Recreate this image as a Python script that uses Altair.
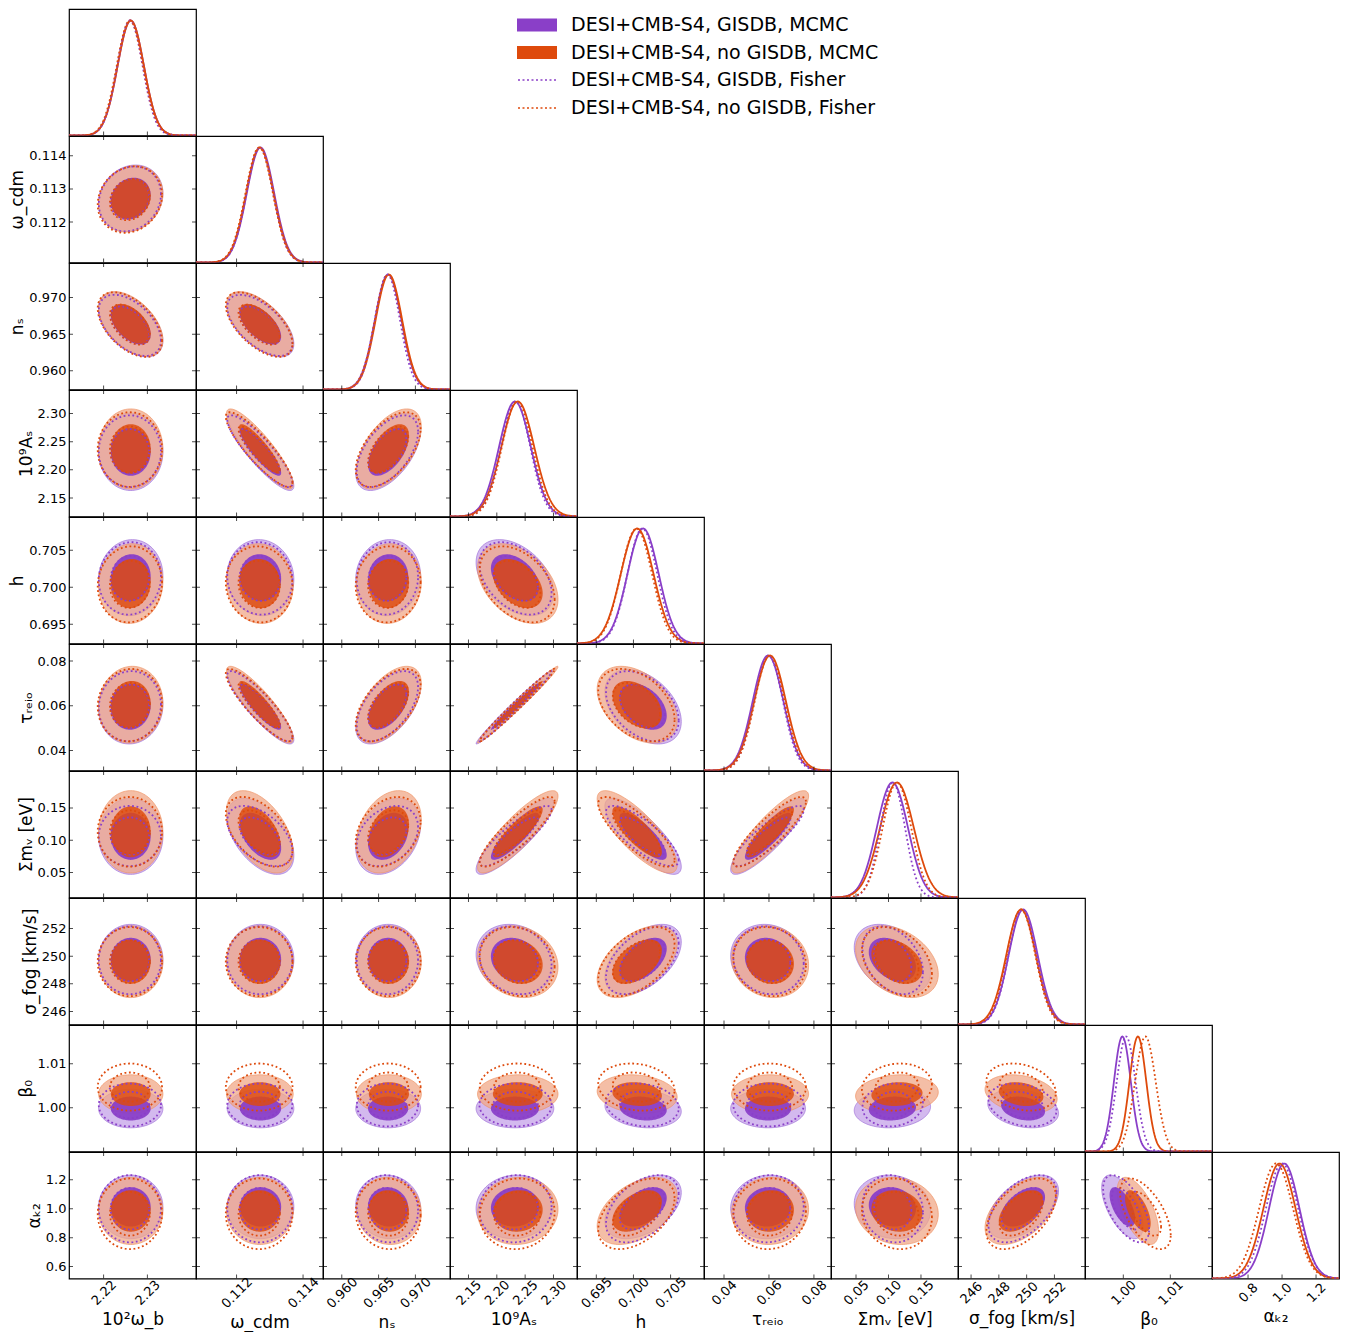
import numpy as np
import pandas as pd
import altair as alt

# ---------------- data ----------------
TITLES = ["10²ω_b", "ω_cdm", "nₛ", "10⁹Aₛ", "h", "τᵣₑᵢₒ", "Σmᵥ [eV]", "σ_fog [km/s]", "β₀", "αₖ₂"]
XDOMAINS = [[2.2121, 2.2411], [0.11078, 0.11460], [0.95745, 0.9747], [2.1174, 2.3415],
            [0.6924, 0.7095], [0.0311, 0.0876], [0.0115, 0.207], [245.06, 254.2],
            [0.99185, 1.01887], [0.588, 1.335]]
YDOMAINS = [[2.2121, 2.2411], [0.11078, 0.11460], [0.95745, 0.9747], [2.1174, 2.3415],
            [0.6924, 0.7095], [0.0311, 0.0876], [0.0115, 0.207], [245.06, 254.2],
            [0.98998, 1.01888], [0.517, 1.393]]
XTICKS = [[2.22, 2.23], [0.112, 0.114], [0.960, 0.965, 0.970], [2.15, 2.20, 2.25, 2.30],
          [0.695, 0.700, 0.705], [0.04, 0.06, 0.08], [0.05, 0.10, 0.15], [246, 248, 250, 252],
          [1.00, 1.01], [0.8, 1.0, 1.2]]
YTICKS = [[2.22, 2.23], [0.112, 0.113, 0.114], [0.960, 0.965, 0.970], [2.15, 2.20, 2.25, 2.30],
          [0.695, 0.700, 0.705], [0.04, 0.06, 0.08], [0.05, 0.10, 0.15], [246, 248, 250, 252],
          [1.00, 1.01], [0.6, 0.8, 1.0, 1.2]]
FMT = [".2f", ".3f", ".3f", ".2f", ".3f", ".2f", ".2f", "d", ".2f", ".1f"]

LABELS = ["DESI+CMB-S4, GISDB, MCMC", "DESI+CMB-S4, no GISDB, MCMC",
          "DESI+CMB-S4, GISDB, Fisher", "DESI+CMB-S4, no GISDB, Fisher"]

MEAN_G_MCMC = [2.2262, 0.11272, 0.9663, 2.232, 0.7013, 0.0596, 0.1060, 249.75, 0.9998, 1.013]
MEAN_N_MCMC = [2.2262, 0.11270, 0.9664, 2.237, 0.7005, 0.0605, 0.1130, 249.60, 1.0031, 0.985]
MEAN_G_FISH = [2.2260, 0.11270, 0.9662, 2.233, 0.7012, 0.0598, 0.1065, 249.70, 1.0006, 1.000]
MEAN_N_FISH = [2.2260, 0.11268, 0.9663, 2.236, 0.7004, 0.0603, 0.1130, 249.60, 1.0047, 0.965]

SIG_G_MCMC = [0.0030, 0.00041, 0.0018, 0.028, 0.0021, 0.0068, 0.024, 1.04, 0.0018, 0.090]
SIG_N_MCMC = [0.0030, 0.00041, 0.0018, 0.029, 0.0022, 0.0070, 0.026, 1.06, 0.0018, 0.095]
SIG_G_FISH = [0.0029, 0.00040, 0.0017, 0.026, 0.0020, 0.0064, 0.019, 1.00, 0.0020, 0.095]
SIG_N_FISH = [0.0030, 0.00041, 0.0018, 0.027, 0.0021, 0.0066, 0.022, 1.02, 0.0022, 0.100]

# correlation of parameter i (row) with parameter j (column), j < i
CORR = [
    [],
    [0.15],
    [-0.5, -0.6],
    [0.0, -0.88, 0.55],
    [0.05, -0.05, 0.05, -0.4],
    [0.05, -0.88, 0.55, 0.988, -0.4],
    [0.0, -0.5, 0.3, 0.87, -0.8, 0.87],
    [0.0, 0.0, 0.0, -0.15, 0.5, -0.1, -0.35],
    [0.0, 0.0, 0.0, 0.0, -0.15, 0.0, 0.1, -0.25],
    [0.0, 0.0, -0.05, 0.05, 0.45, 0.05, -0.1, 0.5, -0.6],
]

# ---------------- styling ----------------
W, H = 127, 126.5
PURPLE = "#8a3fc8"
ORANGE = "#de4a0c"
PURPLE_LIGHT = "#c4a2e8"
ORANGE_LIGHT = "#f0a888"
K68, K95 = 1.515, 2.448
FONT = "DejaVu Sans"
TL = 4  # tick length

fill_enc = alt.Fill(
    "series:N",
    scale=alt.Scale(domain=LABELS[:2], range=[PURPLE, ORANGE]),
    legend=alt.Legend(title=None, orient="none", legendX=458, legendY=6,
                      symbolType="M-2,-0.66H2V0.66H-2Z", symbolSize=400,
                      symbolStrokeWidth=0, symbolOpacity=1, labelFontSize=19,
                      labelLimit=600, labelOffset=24, rowPadding=7.5, padding=0),
)
stroke_enc = alt.Stroke(
    "series:N",
    scale=alt.Scale(domain=LABELS[2:], range=[PURPLE, ORANGE]),
    legend=alt.Legend(title=None, orient="none", legendX=458, legendY=60,
                      symbolType="M-2,0H2", symbolSize=400, symbolDash=[2, 2.5],
                      symbolStrokeWidth=1.6, symbolFillColor="transparent",
                      labelFontSize=19, labelLimit=600,
                      labelOffset=22, rowPadding=7, padding=0),
)


def r6(a):
    return np.array([float(f"{v:.7g}") for v in a])


def area_df(mx, my, sx, sy, r, k, series, n=61):
    t = np.linspace(0, np.pi, n)
    dx = -k * sx * np.cos(t)
    yc = my + r * sy / sx * dx
    hh = k * sy * np.sqrt(1 - r * r) * np.sin(t)
    return pd.DataFrame({"x": r6(mx + dx), "y": r6(yc + hh), "y2": r6(yc - hh), "series": series})


def ring_df(mx, my, sx, sy, r, series, n=121):
    parts = []
    t = np.linspace(0, 2 * np.pi, n)
    for lev, k in (("68", K68), ("95", K95)):
        x = mx + k * sx * np.cos(t)
        y = my + k * sy * (r * np.cos(t) + np.sqrt(1 - r * r) * np.sin(t))
        parts.append(pd.DataFrame({"x": r6(x), "y": r6(y), "lev": lev, "o": np.arange(n), "series": series}))
    return pd.concat(parts, ignore_index=True)


def x_axis(j):
    return alt.Axis(title=TITLES[j], values=XTICKS[j], format=FMT[j], labelAngle=-45,
                    labelAlign="center", labelBaseline="middle", labelPadding=14,
                    titlePadding=4, ticks=False, tickSize=0, domain=False, grid=False,
                    labelOverlap=False, labelFlush=False)


def y_axis(i):
    return alt.Axis(title=TITLES[i], values=YTICKS[i], format=FMT[i], labelPadding=3,
                    titlePadding=2, ticks=False, tickSize=0, domain=False, grid=False,
                    labelOverlap=False, labelFlush=False)


def xenc(j, axis):
    return alt.X("x:Q", scale=alt.Scale(domain=XDOMAINS[j], nice=False, zero=False), axis=axis)


def yenc(i, axis):
    return alt.Y("y:Q", scale=alt.Scale(domain=YDOMAINS[i], nice=False, zero=False), axis=axis)


def tick_layers(i, j, X, Y, sides):
    out = []
    xt = pd.DataFrame({"x": XTICKS[j]})
    tk = dict(size=TL, thickness=1, color="black", clip=True)
    if "b" in sides:
        out.append(alt.Chart(xt).mark_tick(orient="vertical", **tk).encode(x=X, y=alt.value(H - TL / 2)))
    if "t" in sides:
        out.append(alt.Chart(xt).mark_tick(orient="vertical", **tk).encode(x=X, y=alt.value(TL / 2)))
    if Y is not None:
        yt = pd.DataFrame({"y": YTICKS[i]})
        if "l" in sides:
            out.append(alt.Chart(yt).mark_tick(orient="horizontal", **tk).encode(y=Y, x=alt.value(TL / 2)))
        if "r" in sides:
            out.append(alt.Chart(yt).mark_tick(orient="horizontal", **tk).encode(y=Y, x=alt.value(W - TL / 2)))
    return out


def panel_2d(i, j):
    X = xenc(j, x_axis(j) if i == 9 else None)
    Y = yenc(i, y_axis(i) if j == 0 else None)
    r = CORR[i][j]
    sets = ((MEAN_G_MCMC, SIG_G_MCMC, LABELS[0], PURPLE_LIGHT, "#9a6ad6", 0.75, 0.95),
            (MEAN_N_MCMC, SIG_N_MCMC, LABELS[1], ORANGE_LIGHT, "#f0905e", 0.75, 0.82))
    outers, inners = [], []
    for mean, sig, lab, light, edge, oo, io in sets:
        outer = area_df(mean[j], mean[i], sig[j], sig[i], r, K95, lab)
        inner = area_df(mean[j], mean[i], sig[j], sig[i], r, K68, lab)
        outers.append(alt.Chart(outer).mark_area(
            clip=True, fill=light, fillOpacity=oo, stroke=edge, strokeWidth=0.8, strokeOpacity=0.8)
            .encode(x=X, y=Y, y2="y2:Q"))
        inners.append(alt.Chart(inner).mark_area(clip=True, fillOpacity=io)
                      .encode(x=X, y=Y, y2="y2:Q", fill=fill_enc))
    layers = outers + inners
    for mean, sig, lab in ((MEAN_G_FISH, SIG_G_FISH, LABELS[2]), (MEAN_N_FISH, SIG_N_FISH, LABELS[3])):
        ring = ring_df(mean[j], mean[i], sig[j], sig[i], r, lab)
        layers.append(alt.Chart(ring).mark_line(clip=True, strokeDash=[1.8, 2.6], strokeWidth=1.8)
                      .encode(x=X, y=Y, stroke=stroke_enc, detail="lev:N", order="o:Q"))
    layers += tick_layers(i, j, X, Y, "btlr")
    return alt.layer(*layers).properties(width=W, height=H)


def panel_diag(i):
    X = xenc(i, x_axis(i) if i == 9 else None)
    Y = alt.Y("y:Q", scale=alt.Scale(domain=[0, 1.1], nice=False, zero=False), axis=None)
    xs = np.linspace(XDOMAINS[i][0], XDOMAINS[i][1], 160)
    layers = []
    for mean, sig, col in ((MEAN_G_MCMC, SIG_G_MCMC, PURPLE), (MEAN_N_MCMC, SIG_N_MCMC, ORANGE)):
        d = pd.DataFrame({"x": r6(xs), "y": r6(np.exp(-0.5 * ((xs - mean[i]) / sig[i]) ** 2))})
        layers.append(alt.Chart(d).mark_line(clip=True, strokeWidth=1.8, color=col).encode(x=X, y=Y))
    for mean, sig, lab in ((MEAN_G_FISH, SIG_G_FISH, LABELS[2]), (MEAN_N_FISH, SIG_N_FISH, LABELS[3])):
        d = pd.DataFrame({"x": r6(xs), "y": r6(np.exp(-0.5 * ((xs - mean[i]) / sig[i]) ** 2)), "series": lab})
        layers.append(alt.Chart(d).mark_line(clip=True, strokeDash=[1.8, 2.6], strokeWidth=1.8)
                      .encode(x=X, y=Y, stroke=stroke_enc))
    layers += tick_layers(i, i, X, None, "b")
    return alt.layer(*layers).properties(width=W, height=H)


def blank():
    return (alt.Chart(pd.DataFrame({"z": [0]})).mark_point(opacity=0, size=1)
            .encode(x=alt.value(W / 2), y=alt.value(H / 2))
            .properties(width=W, height=H, view=alt.ViewBackground(stroke="transparent")))


cells = []
for i in range(10):
    for j in range(10):
        if j < i:
            cells.append(panel_2d(i, j))
        elif j == i:
            cells.append(panel_diag(i))
        else:
            cells.append(blank())

chart = (
    alt.concat(*cells, columns=10, spacing=0, bounds="flush")
    .properties(padding={"left": 0, "top": 0, "right": 5, "bottom": 0}, background="white")
    .configure(font=FONT)
    .configure_view(stroke="black", strokeWidth=1.2)
    .configure_axis(labelFont=FONT, labelFontSize=13, labelColor="black",
                    titleFont=FONT, titleFontSize=17, titleFontWeight="normal", titleColor="black")
    .configure_legend(labelFont=FONT, labelColor="black")
)

chart.save("out.html", embed_options={"renderer": "svg", "actions": False})
